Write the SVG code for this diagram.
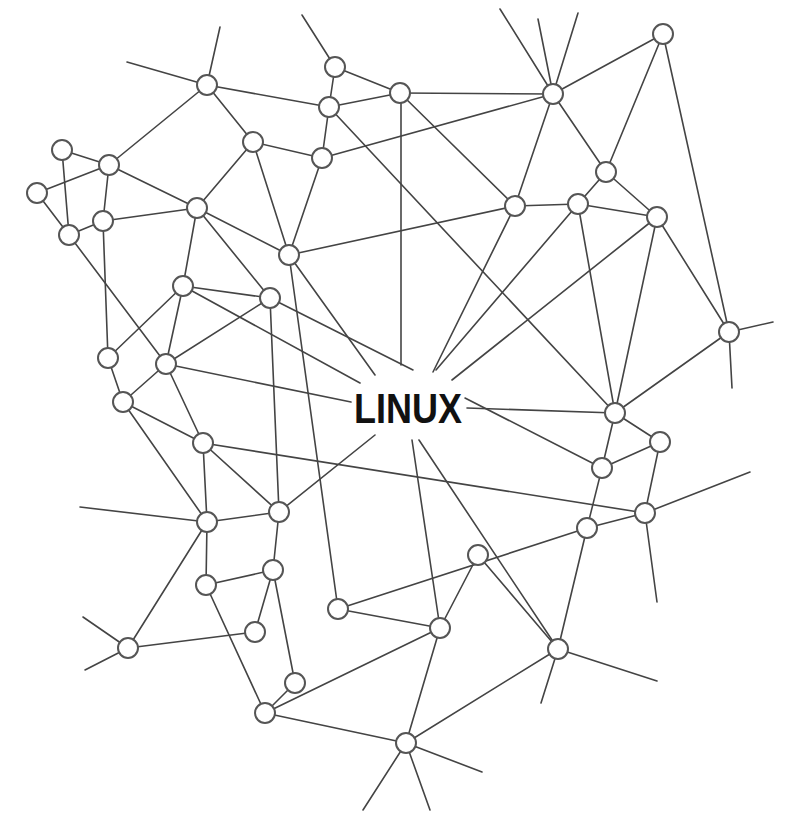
<svg xmlns="http://www.w3.org/2000/svg" width="795" height="813" viewBox="0 0 795 813">
<style>
.e{stroke:#444;stroke-width:1.6;fill:none;stroke-linecap:round}
.n circle{fill:#fff;stroke:#555;stroke-width:2}
.t{font-family:"Liberation Sans",Arial,sans-serif;font-weight:bold;font-size:43px;fill:#111}
</style>
<rect width="795" height="813" fill="#fff"/>
<g id="connectors" class="e">
<line x1="207" y1="85" x2="220" y2="27"/>
<line x1="207" y1="85" x2="127" y2="62"/>
<line x1="335" y1="67" x2="302" y2="15"/>
<line x1="553" y1="94" x2="500" y2="9"/>
<line x1="553" y1="94" x2="538" y2="19"/>
<line x1="553" y1="94" x2="578" y2="13"/>
<line x1="729" y1="332" x2="773" y2="322"/>
<line x1="729" y1="332" x2="732" y2="388"/>
<line x1="207" y1="522" x2="80" y2="507"/>
<line x1="645" y1="513" x2="750" y2="472"/>
<line x1="645" y1="513" x2="657" y2="602"/>
<line x1="128" y1="648" x2="83" y2="617"/>
<line x1="128" y1="648" x2="85" y2="670"/>
<line x1="558" y1="649" x2="657" y2="681"/>
<line x1="558" y1="649" x2="541" y2="703"/>
<line x1="406" y1="743" x2="363" y2="810"/>
<line x1="406" y1="743" x2="430" y2="810"/>
<line x1="406" y1="743" x2="482" y2="772"/>
<line x1="401" y1="93" x2="401" y2="365"/>
<line x1="289" y1="255" x2="375" y2="375"/>
<line x1="183" y1="286" x2="360" y2="383"/>
<line x1="270" y1="298" x2="413" y2="370"/>
<line x1="166" y1="364" x2="351" y2="402"/>
<line x1="515" y1="206" x2="433" y2="372"/>
<line x1="578" y1="204" x2="436" y2="370"/>
<line x1="657" y1="217" x2="452" y2="380"/>
<line x1="467" y1="408" x2="615" y2="413"/>
<line x1="465" y1="398" x2="602" y2="468"/>
<line x1="279" y1="512" x2="375" y2="435"/>
<line x1="412" y1="440" x2="440" y2="628"/>
<line x1="419" y1="440" x2="558" y2="649"/>
<line x1="207" y1="85" x2="329" y2="107"/>
<line x1="207" y1="85" x2="109" y2="165"/>
<line x1="207" y1="85" x2="253" y2="142"/>
<line x1="335" y1="67" x2="329" y2="107"/>
<line x1="335" y1="67" x2="400" y2="93"/>
<line x1="329" y1="107" x2="400" y2="93"/>
<line x1="329" y1="107" x2="322" y2="158"/>
<line x1="329" y1="107" x2="615" y2="413"/>
<line x1="400" y1="93" x2="553" y2="94"/>
<line x1="400" y1="93" x2="515" y2="206"/>
<line x1="553" y1="94" x2="663" y2="34"/>
<line x1="553" y1="94" x2="322" y2="158"/>
<line x1="553" y1="94" x2="515" y2="206"/>
<line x1="553" y1="94" x2="606" y2="172"/>
<line x1="663" y1="34" x2="606" y2="172"/>
<line x1="663" y1="34" x2="729" y2="332"/>
<line x1="253" y1="142" x2="322" y2="158"/>
<line x1="253" y1="142" x2="197" y2="208"/>
<line x1="253" y1="142" x2="289" y2="255"/>
<line x1="322" y1="158" x2="289" y2="255"/>
<line x1="62" y1="150" x2="109" y2="165"/>
<line x1="62" y1="150" x2="69" y2="235"/>
<line x1="109" y1="165" x2="37" y2="193"/>
<line x1="109" y1="165" x2="103" y2="221"/>
<line x1="109" y1="165" x2="197" y2="208"/>
<line x1="37" y1="193" x2="69" y2="235"/>
<line x1="103" y1="221" x2="69" y2="235"/>
<line x1="103" y1="221" x2="197" y2="208"/>
<line x1="103" y1="221" x2="108" y2="358"/>
<line x1="69" y1="235" x2="166" y2="364"/>
<line x1="197" y1="208" x2="289" y2="255"/>
<line x1="197" y1="208" x2="183" y2="286"/>
<line x1="197" y1="208" x2="270" y2="298"/>
<line x1="289" y1="255" x2="515" y2="206"/>
<line x1="289" y1="255" x2="338" y2="609"/>
<line x1="515" y1="206" x2="578" y2="204"/>
<line x1="578" y1="204" x2="606" y2="172"/>
<line x1="578" y1="204" x2="657" y2="217"/>
<line x1="578" y1="204" x2="615" y2="413"/>
<line x1="606" y1="172" x2="657" y2="217"/>
<line x1="657" y1="217" x2="729" y2="332"/>
<line x1="657" y1="217" x2="615" y2="413"/>
<line x1="183" y1="286" x2="270" y2="298"/>
<line x1="183" y1="286" x2="108" y2="358"/>
<line x1="183" y1="286" x2="166" y2="364"/>
<line x1="270" y1="298" x2="166" y2="364"/>
<line x1="270" y1="298" x2="279" y2="512"/>
<line x1="108" y1="358" x2="123" y2="402"/>
<line x1="166" y1="364" x2="123" y2="402"/>
<line x1="166" y1="364" x2="203" y2="443"/>
<line x1="729" y1="332" x2="615" y2="413"/>
<line x1="123" y1="402" x2="203" y2="443"/>
<line x1="123" y1="402" x2="207" y2="522"/>
<line x1="615" y1="413" x2="660" y2="442"/>
<line x1="615" y1="413" x2="602" y2="468"/>
<line x1="203" y1="443" x2="207" y2="522"/>
<line x1="203" y1="443" x2="279" y2="512"/>
<line x1="203" y1="443" x2="645" y2="513"/>
<line x1="660" y1="442" x2="602" y2="468"/>
<line x1="660" y1="442" x2="645" y2="513"/>
<line x1="602" y1="468" x2="587" y2="528"/>
<line x1="207" y1="522" x2="279" y2="512"/>
<line x1="207" y1="522" x2="206" y2="585"/>
<line x1="207" y1="522" x2="128" y2="648"/>
<line x1="279" y1="512" x2="273" y2="570"/>
<line x1="645" y1="513" x2="587" y2="528"/>
<line x1="587" y1="528" x2="558" y2="649"/>
<line x1="587" y1="528" x2="338" y2="609"/>
<line x1="478" y1="555" x2="440" y2="628"/>
<line x1="478" y1="555" x2="558" y2="649"/>
<line x1="206" y1="585" x2="273" y2="570"/>
<line x1="206" y1="585" x2="265" y2="713"/>
<line x1="273" y1="570" x2="255" y2="632"/>
<line x1="273" y1="570" x2="295" y2="683"/>
<line x1="338" y1="609" x2="440" y2="628"/>
<line x1="440" y1="628" x2="265" y2="713"/>
<line x1="440" y1="628" x2="406" y2="743"/>
<line x1="255" y1="632" x2="128" y2="648"/>
<line x1="558" y1="649" x2="406" y2="743"/>
<line x1="295" y1="683" x2="265" y2="713"/>
<line x1="265" y1="713" x2="406" y2="743"/>
</g>
<g class="n">
<g id="n1"><circle cx="207" cy="85" r="10"/></g>
<g id="n2"><circle cx="335" cy="67" r="10"/></g>
<g id="n3"><circle cx="329" cy="107" r="10"/></g>
<g id="n4"><circle cx="400" cy="93" r="10"/></g>
<g id="n5"><circle cx="553" cy="94" r="10"/></g>
<g id="n6"><circle cx="663" cy="34" r="10"/></g>
<g id="n7"><circle cx="253" cy="142" r="10"/></g>
<g id="n8"><circle cx="322" cy="158" r="10"/></g>
<g id="n9"><circle cx="62" cy="150" r="10"/></g>
<g id="n10"><circle cx="109" cy="165" r="10"/></g>
<g id="n11"><circle cx="37" cy="193" r="10"/></g>
<g id="n12"><circle cx="103" cy="221" r="10"/></g>
<g id="n13"><circle cx="69" cy="235" r="10"/></g>
<g id="n14"><circle cx="197" cy="208" r="10"/></g>
<g id="n15"><circle cx="289" cy="255" r="10"/></g>
<g id="n16"><circle cx="515" cy="206" r="10"/></g>
<g id="n17"><circle cx="578" cy="204" r="10"/></g>
<g id="n18"><circle cx="606" cy="172" r="10"/></g>
<g id="n19"><circle cx="657" cy="217" r="10"/></g>
<g id="n20"><circle cx="183" cy="286" r="10"/></g>
<g id="n21"><circle cx="270" cy="298" r="10"/></g>
<g id="n22"><circle cx="108" cy="358" r="10"/></g>
<g id="n23"><circle cx="166" cy="364" r="10"/></g>
<g id="n24"><circle cx="729" cy="332" r="10"/></g>
<g id="n25"><circle cx="123" cy="402" r="10"/></g>
<g id="n26"><circle cx="615" cy="413" r="10"/></g>
<g id="n27"><circle cx="203" cy="443" r="10"/></g>
<g id="n28"><circle cx="660" cy="442" r="10"/></g>
<g id="n29"><circle cx="602" cy="468" r="10"/></g>
<g id="n30"><circle cx="207" cy="522" r="10"/></g>
<g id="n31"><circle cx="279" cy="512" r="10"/></g>
<g id="n32"><circle cx="645" cy="513" r="10"/></g>
<g id="n33"><circle cx="587" cy="528" r="10"/></g>
<g id="n34"><circle cx="478" cy="555" r="10"/></g>
<g id="n35"><circle cx="206" cy="585" r="10"/></g>
<g id="n36"><circle cx="273" cy="570" r="10"/></g>
<g id="n37"><circle cx="338" cy="609" r="10"/></g>
<g id="n38"><circle cx="440" cy="628" r="10"/></g>
<g id="n39"><circle cx="255" cy="632" r="10"/></g>
<g id="n40"><circle cx="128" cy="648" r="10"/></g>
<g id="n41"><circle cx="558" cy="649" r="10"/></g>
<g id="n42"><circle cx="295" cy="683" r="10"/></g>
<g id="n43"><circle cx="265" cy="713" r="10"/></g>
<g id="n44"><circle cx="406" cy="743" r="10"/></g>
</g>
<g id="linux"><text class="t" x="408" y="423" text-anchor="middle" textLength="108" lengthAdjust="spacingAndGlyphs">LINUX</text></g>
</svg>
